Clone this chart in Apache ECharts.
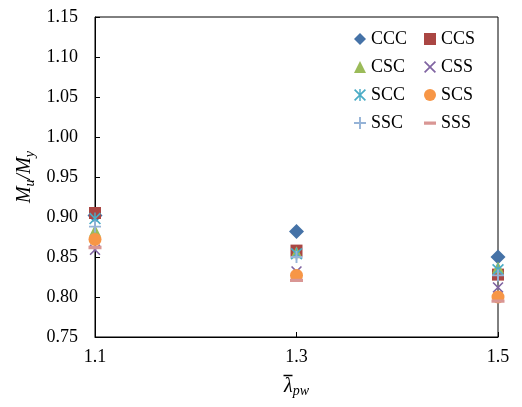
<!DOCTYPE html>
<html>
<head>
<meta charset="utf-8">
<script src="https://cdn.jsdelivr.net/npm/echarts@6/dist/echarts.min.js"></script>
<style>
	html, body { margin: 0; padding: 0; background: #fff; }
	#chart { width: 522px; height: 407px; }
</style>
</head>
<body>
<div id="chart"></div>
<script>
// x categories (lambda_pw) and y ticks
var xCats = ["1.1", "1.3", "1.5"];
var yMin = 0.75, yMax = 1.15, yStep = 0.05;

// Mu/My, one value per x category
var CCC = [0.902, 0.882, 0.850];
var CCS = [0.905, 0.858, 0.828];
var CSC = [0.883, 0.856, 0.837];
var CSS = [0.859, 0.832, 0.812];
var SCC = [0.898, 0.854, 0.834];
var SCS = [0.872, 0.827, 0.800];
var SSC = [0.888, 0.850, 0.827];
var SSS = [0.862, 0.821, 0.795];

var FONT = "'Liberation Serif', 'DejaVu Serif', serif";

var P_X = "path://M1,0 L5,4 L9,0 L10,1 L6,5 L10,9 L9,10 L5,6 L1,10 L0,9 L4,5 L0,1 Z";
var P_STAR = P_X + " M4.4,0 H5.6 V10 H4.4 Z";
var P_PLUS = "path://M4.2,0 H5.8 V4.2 H10 V5.8 H5.8 V10 H4.2 V5.8 H0 V4.2 H4.2 Z";
var P_DASH = "path://M0,0 L0,0 Z M0,3.8 H10 V6.4 H0 Z M10,10 L10,10 Z";

function pts(arr) {
	return arr.map(function (v, i) { return [xCats[i], v]; });
}

function sc(name, data, color, symbol, size) {
	return {
		name: name,
		type: "scatter",
		data: pts(data),
		symbol: symbol,
		symbolSize: size,
		itemStyle: { color: color, opacity: 1 },
		emphasis: { disabled: true }
	};
}

var legendText = { fontFamily: FONT, fontSize: 18, color: "#000", lineHeight: 20 };

var option = {
	animation: false,
	backgroundColor: "#fff",
	textStyle: { fontFamily: FONT },
	grid: {
		left: 95, right: 24, top: 17, bottom: 70,
		containLabel: false,
		outerBoundsMode: "none",
		show: true,
		borderColor: "#000",
		borderWidth: 1
	},
	legend: [{
		orient: "vertical",
		left: 354, top: 29, padding: 0,
		itemWidth: 12, itemHeight: 12, itemGap: 8,
		textStyle: legendText,
		data: ["CCC", "CSC", "SCC", "SSC"]
	}, {
		orient: "vertical",
		left: 424, top: 29, padding: 0,
		itemWidth: 12, itemHeight: 12, itemGap: 8,
		textStyle: legendText,
		data: ["CCS", "CSS", "SCS", "SSS"]
	}],
	xAxis: {
		type: "category",
		data: xCats,
		boundaryGap: false,
		axisLine: { lineStyle: { color: "#000", width: 1 } },
		axisTick: { show: true, inside: true, length: 5, lineStyle: { color: "#000" } },
		axisLabel: { color: "#000", fontFamily: FONT, fontSize: 18, margin: 11 },
		splitLine: { show: false },
		// overbar drawn as a thin token above the lambda
		name: "{bar| }{sp| }\n{l|\u03BB}{s|pw}",
		nameLocation: "middle",
		nameGap: 37,
		nameMoveOverlap: false,
		nameTextStyle: {
			rich: {
				bar: { width: 9, height: 1.5, fontSize: 1, lineHeight: 3, backgroundColor: "#000" },
				sp: { width: 17, fontSize: 1, lineHeight: 3 },
				l: { fontFamily: FONT, fontSize: 20, lineHeight: 20, fontStyle: "italic", color: "#000" },
				s: { fontFamily: FONT, fontSize: 14, lineHeight: 14, fontStyle: "italic", color: "#000", padding: [9, 0, 0, 0] }
			}
		}
	},
	yAxis: {
		type: "value",
		min: yMin, max: yMax, interval: yStep,
		axisLine: { show: true, lineStyle: { color: "#000", width: 1 } },
		axisTick: { show: true, inside: true, length: 5, lineStyle: { color: "#000" } },
		axisLabel: {
			color: "#000", fontFamily: FONT, fontSize: 18, margin: 17,
			formatter: function (v) { return v.toFixed(2); }
		},
		splitLine: { show: false },
		name: "{a|M}{b|u}{a|/M}{b|y}",
		nameLocation: "middle",
		nameRotate: 90,
		nameGap: 58,
		nameMoveOverlap: false,
		nameTextStyle: {
			rich: {
				a: { fontFamily: FONT, fontSize: 20, fontStyle: "italic", color: "#000" },
				b: { fontFamily: FONT, fontSize: 14, fontStyle: "italic", color: "#000", padding: [10, 0, 0, 0] }
			}
		}
	},
	series: [
		sc("CCC", CCC, "#4572A7", "diamond", 15),
		sc("CCS", CCS, "#AA4643", "rect", 12),
		sc("CSC", CSC, "#9BBB59", "triangle", 12),
		sc("CSS", CSS, "#8064A2", P_X, 11),
		sc("SCC", SCC, "#4BACC6", P_STAR, 12),
		sc("SCS", SCS, "#F79646", "circle", 13),
		sc("SSC", SSC, "#95B3D7", P_PLUS, 12),
		sc("SSS", SSS, "#D99694", P_DASH, 13)
	]
};

var myChart = echarts.init(document.getElementById("chart"), null, { renderer: "canvas" });
myChart.setOption(option);
</script>
</body>
</html>
